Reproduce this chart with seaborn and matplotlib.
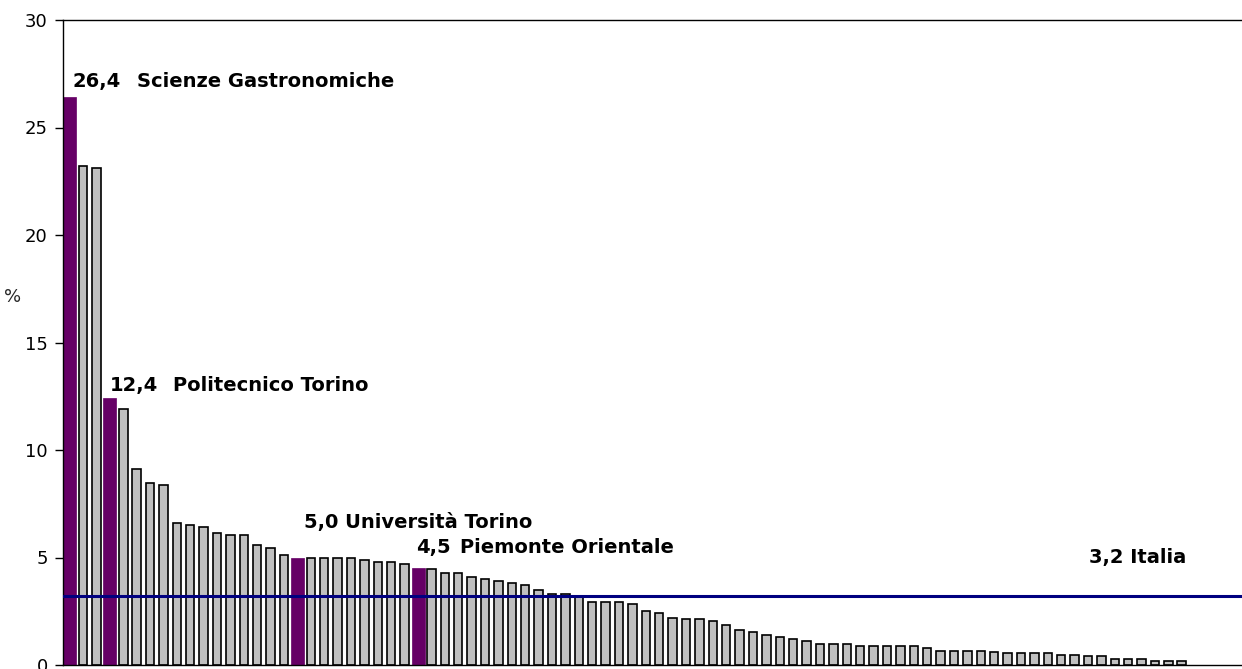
import matplotlib
matplotlib.use("Agg")
import matplotlib.pyplot as plt
import seaborn as sns
import pandas as pd

# Quota (%) per ateneo, in ordine decrescente
values = [26.4, 23.2, 23.1, 12.4, 11.9, 9.1, 8.45, 8.35, 6.6, 6.5,
          6.4, 6.15, 6.05, 6.05, 5.6, 5.45, 5.1, 5.0, 5.0, 5.0,
          5.0, 5.0, 4.9, 4.8, 4.8, 4.7, 4.5, 4.45, 4.3, 4.3,
          4.1, 4.0, 3.9, 3.8, 3.7, 3.5, 3.3, 3.3, 3.2, 2.95,
          2.95, 2.95, 2.85, 2.5, 2.4, 2.2, 2.15, 2.15, 2.05, 1.85,
          1.65, 1.55, 1.4, 1.3, 1.2, 1.1, 1.0, 1.0, 1.0, 0.9,
          0.9, 0.9, 0.9, 0.9, 0.8, 0.65, 0.65, 0.65, 0.65, 0.6,
          0.55, 0.55, 0.55, 0.55, 0.45, 0.45, 0.4, 0.4, 0.3, 0.3,
          0.3, 0.2, 0.2, 0.2]

# Atenei piemontesi evidenziati (posizione nella graduatoria -> nome)
highlight_pos = [0, 3, 17, 26]
highlight_names = ["Scienze Gastronomiche", "Politecnico Torino",
                   "Università Torino", "Piemonte Orientale"]

italia_value = 3.2
italia_name = "Italia"

y_ticks = [0, 5, 10, 15, 20, 25, 30]

GREY = "#C0C0C0"
PURPLE = "#660066"
NAVY = "#000080"


def fmt(v):
    return f"{v:.1f}".replace(".", ",")


labels = [f"Ateneo {i + 1}" for i in range(len(values))]
df = pd.DataFrame({"ateneo": labels, "quota": values})
df["piemonte"] = [i in highlight_pos for i in range(len(values))]

sns.set_style("white")
plt.rcParams["font.family"] = ["DejaVu Sans"]

fig = plt.figure(figsize=(12.42, 6.69), dpi=100)
ax = fig.add_axes([63 / 1242, 1 - 665 / 669, 1 - 63 / 1242, (665 - 20) / 669])

sns.barplot(data=df[~df["piemonte"]], x="ateneo", y="quota", order=labels,
            color=GREY, saturation=1, edgecolor="black", linewidth=1.2,
            width=0.63, errorbar=None, ax=ax)
sns.barplot(data=df[df["piemonte"]], x="ateneo", y="quota", order=labels,
            color=PURPLE, saturation=1, edgecolor=PURPLE, linewidth=0.5,
            width=0.97, errorbar=None, ax=ax)

ax.axhline(italia_value, color=NAVY, linewidth=2.2, zorder=5)

ax.set_xlim(-0.5, 87.5)
ax.set_ylim(0, 30)
ax.set_yticks(y_ticks)
ax.set_yticklabels([str(t) for t in y_ticks], fontsize=13)
ax.set_xticks([])
ax.set_xlabel("")
ax.set_ylabel("%", rotation=0, fontsize=13, va="center", ha="center")
ax.yaxis.set_label_coords(-13 / 1179 * 3.85, 0.57)
ax.tick_params(axis="y", left=True, direction="out", length=6, width=1,
               pad=5, colors="black")

for side in ["left", "bottom", "top"]:
    ax.spines[side].set_visible(True)
    ax.spines[side].set_color("black")
    ax.spines[side].set_linewidth(1.0)
ax.spines["right"].set_visible(False)

# Etichette degli atenei evidenziati: (offset valore, offset nome) in pixel
label_offsets = [((3, 10.5), (67, 10.5)),
                 ((0, 7.5), (63, 7.5)),
                 ((6.5, 29.5), None),
                 ((-2, 15), (42, 15))]
bold = dict(fontsize=14, fontweight="bold", color="black",
            ha="left", va="baseline", textcoords="offset pixels")
for pos, name, (voff, noff) in zip(highlight_pos, highlight_names, label_offsets):
    v = values[pos]
    if noff is None:
        ax.annotate(f"{fmt(v)} {name}", xy=(pos, v), xytext=voff, **bold)
    else:
        ax.annotate(fmt(v), xy=(pos, v), xytext=voff, **bold)
        ax.annotate(name, xy=(pos, v), xytext=noff, **bold)

ax.annotate(f"{fmt(italia_value)} {italia_name}", xy=(76.1, italia_value),
            xytext=(0, 33), **bold)

fig.savefig("out.png", dpi=100)
